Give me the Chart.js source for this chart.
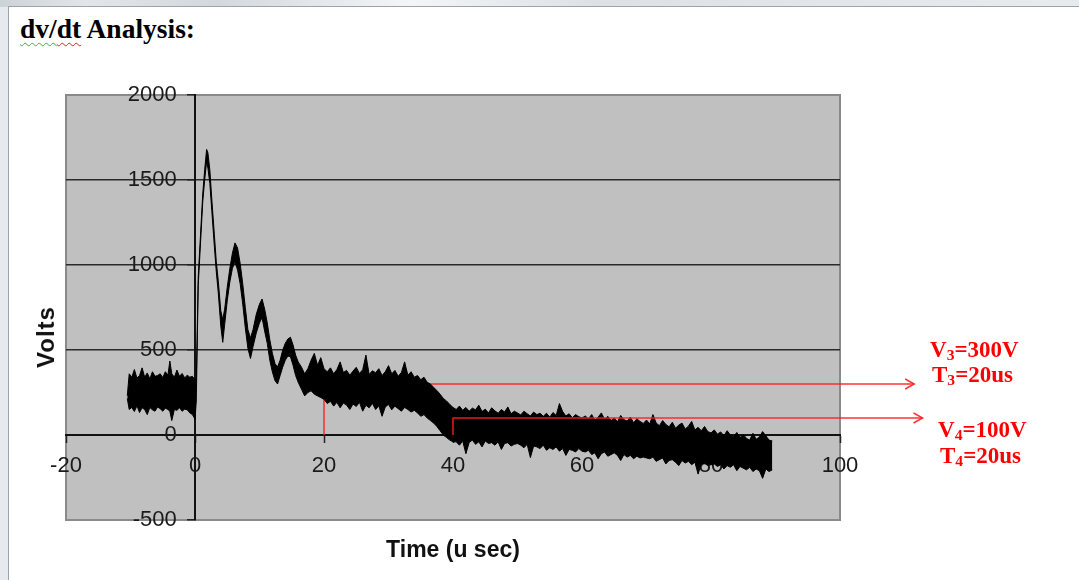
<!DOCTYPE html>
<html>
<head>
<meta charset="utf-8">
<script src="https://cdn.jsdelivr.net/npm/chart.js@4.4.0/dist/chart.umd.min.js"></script>
<style>
  html, body { margin: 0; padding: 0; width: 1079px; height: 580px; overflow: hidden; background: #e6e9ed; }
  .topband { position: absolute; left: 0; top: 0; width: 1079px; height: 7px;
    background: linear-gradient(90deg, #cdd2d8 0%, #e2e6ea 8%, #d3d8de 20%, #f3f5f7 38%, #dde1e6 55%, #e8ebee 100%); }
  .slide { position: absolute; left: 8px; top: 6px; width: 1080px; height: 580px; background: #fff;
    border-left: 1px solid #9ea3a8; border-top: 1px solid #9ea3a8; }
  canvas { position: absolute; left: 0; top: 0; }
  .title { position: absolute; left: 20px; top: 15px; font: bold 27.5px/27px 'Liberation Serif', 'Times New Roman', serif; color: #000; }
  .sq { text-decoration: underline wavy; text-decoration-thickness: 1px; text-underline-offset: 4px; }
  .green { text-decoration-color: #3cb043; }
  .red { text-decoration-color: #e02020; }
  .ylabel { position: absolute; left: 46px; top: 337px; transform: translate(-50%, -50%) rotate(-90deg);
    font: bold 24px/24px 'Liberation Sans', Arial, sans-serif; letter-spacing: 1px; color: #111; white-space: nowrap; }
  .xlabel { position: absolute; left: 453px; top: 538px; transform: translateX(-50%);
    font: bold 23px/23px 'Liberation Sans', Arial, sans-serif; color: #111; white-space: nowrap; }
  .note { position: absolute; font: bold 23px/23px 'Liberation Serif', 'Times New Roman', serif; color: #f00; white-space: nowrap; }
  .note sub { font-size: 0.68em; line-height: 0; vertical-align: -0.22em; }
</style>
</head>
<body>
<div class="topband"></div>
<div class="slide"></div>
<div class="title"><span class="sq green">dv/</span><span class="sq red">dt</span> Analysis:</div>
<canvas id="wave" width="1079" height="580"></canvas>
<div class="ylabel">Volts</div>
<div class="xlabel">Time (u sec)</div>
<div class="note" style="left:930px; top:338px;">V<sub>3</sub>=300V</div>
<div class="note" style="left:932px; top:363px;">T<sub>3</sub>=20us</div>
<div class="note" style="left:938px; top:418px;">V<sub>4</sub>=100V</div>
<div class="note" style="left:940px; top:444px;">T<sub>4</sub>=20us</div>
<script>
// time axis (u sec) and the trace envelope (upper / lower edge of the noisy band)
const timeUs = [
  -10.5, -10.2, -9.8, -9.4, -9, -8.6, -8.2, -7.8, -7.4, -7, -6.6, -6.2, -5.8, -5.4, -5, -4.6, -4.2, -3.9, -3.6, -3.2, -2.8, -2.4, -2, -1.6, -1.2, -0.8, -0.4, -0.1,
  0, 0.2, 0.5, 0.8, 1.2, 1.5, 1.8, 2.0, 2.3, 2.6, 3.0, 3.3, 3.6, 4.0, 4.3, 4.6, 5.0, 5.4, 5.8, 6.2, 6.6, 7.0, 7.4, 7.8, 8.2, 8.6, 9.0, 9.5, 10.0, 10.4, 10.8, 11.2, 11.6, 12.0, 12.4, 12.8, 13.2, 13.6, 14.0, 14.4, 14.8, 15.2, 15.6, 16.0, 16.5, 17.0, 17.5, 18.0, 18.5, 19.0, 19.5,
  20, 20.5, 21, 21.5, 22, 22.5, 23, 23.5, 24, 24.5, 25, 25.5, 26, 26.5, 27, 27.5, 28, 28.5, 29, 29.5, 30, 30.5, 31, 31.5, 32, 32.5, 33, 33.5, 34,
  34.5, 35, 35.5, 36, 36.5, 37, 37.5, 38, 38.5, 39, 39.5, 40,
  40.5, 41, 41.5, 42, 42.5, 43, 43.5, 44, 44.5, 45, 45.5, 46, 46.5, 47, 47.5, 48, 48.5, 49, 49.5, 50,
  50.5, 51, 51.5, 52, 52.5, 53, 53.5, 54, 54.5, 55, 55.5, 56, 56.5, 57, 57.5, 58, 58.5, 59, 59.5, 60,
  60.5, 61, 61.5, 62, 62.5, 63, 63.5, 64, 64.5, 65, 65.5, 66, 66.5, 67, 67.5, 68, 68.5, 69, 69.5, 70,
  70.5, 71, 71.5, 72, 72.5, 73, 73.5, 74, 74.5, 75, 75.5, 76, 76.5, 77, 77.5, 78, 78.5, 79, 79.5, 80,
  80.5, 81, 81.5, 82, 82.5, 83, 83.5, 84, 84.5, 85, 85.5, 86, 86.5, 87, 87.5, 88, 88.5, 89, 89.5
];
const upperV = [
  230, 360, 340, 385, 335, 350, 395, 340, 365, 330, 372, 345, 350, 360, 338, 372, 352, 435, 360, 340, 382, 345, 362, 336, 352, 340, 345, 330,
  330, 320, 930, 1140, 1420, 1560, 1680, 1660, 1560, 1390, 1180, 1020, 910, 730, 680, 740, 870, 980, 1070, 1130, 1100, 1010, 890, 750, 620, 570, 620, 710, 770, 800, 740, 660, 560, 480, 420, 400, 440, 500, 540, 565, 575, 530, 470, 430, 400, 360, 390, 440, 480, 410, 455,
  390, 372, 395, 360, 385, 430, 368, 380, 352, 376, 398, 362, 384, 470, 356, 378, 366, 390, 350, 372, 408, 360, 380, 345, 368, 430, 352, 372, 340,
  350, 325, 340, 310, 300, 280, 262, 240, 215, 200, 180, 162,
  150, 170, 145, 162, 140, 158, 148, 175, 138, 152, 130, 160, 142, 128, 150, 135, 165, 125, 140, 130,
  118, 140, 125, 112, 135, 120, 128, 110, 128, 105, 132, 115, 185, 138, 112, 125, 102, 120, 108, 100,
  112, 95, 120, 88, 105, 130, 92, 110, 85, 100, 78, 115, 90, 82, 105, 72, 95, 80, 68, 88,
  65, 120, 70, 55, 85, 62, 48, 75, 40, 58, 70, 35, 52, 80, 30, 45, 25, 50, 20, 12,
  30, 5, 18, -5, 25, 0, -10, 15, -15, 5, -20, -30, 10, -25, -12, 20, -5, -30, -35
];
const lowerV = [
  215, 150, 162, 138, 172, 132, 160, 150, 120, 162, 148, 140, 165, 155, 140, 158, 150, 140, 85, 150, 145, 160, 140, 152, 148, 130, 120, 100,
  90, 200, 880, 1090, 1370, 1500, 1610, 1570, 1480, 1320, 1110, 960, 840, 640, 545, 650, 790, 900, 980, 1020, 970, 890, 770, 630, 510, 450, 520, 600, 660, 690, 610, 540, 440, 370, 320, 300, 350, 400, 440, 465, 460, 410, 350, 310, 270, 230, 250, 260, 240, 230, 220,
  210, 185, 198, 170, 192, 160, 188, 176, 150, 182, 168, 192, 140, 175, 160, 186, 150, 172, 110, 165, 180, 148, 170, 155, 140, 162, 150, 135, 145,
  130, 110, 120, 100, 85, 70, 50, 25, 0, -15, -30, -40,
  -40, -60, -35, -110, -45, -30, -55, -40, -70, -35, -50, -45, -60, -40, -85, -50, -45, -65, -55, -50,
  -60, -75, -55, -133, -65, -70, -80, -60, -90, -75, -85, -70, -95, -80, -120, -85, -90, -100, -80, -95,
  -100, -90, -115, -105, -140, -110, -100, -125, -115, -105, -120, -150, -115, -130, -120, -140, -125, -135, -130, -135,
  -140, -130, -155, -145, -135, -170, -150, -145, -160, -180, -150, -165, -155, -175, -160, -230, -170, -165, -180, -175,
  -170, -185, -175, -200, -180, -190, -175, -210, -185, -195, -205, -190, -215, -200, -210, -255, -200, -215, -205
];

const xTicks = [-20, 0, 20, 40, 60, 80, 100];
const yTicks = [-500, 0, 500, 1000, 1500, 2000];

// red markers: start time, level, and where the arrow ends (past the plot, in u sec)
const markTimes = [20, 40];
const markVolts = [300, 100];
const arrowTimes = [111.5, 112.8];

const upperPts = timeUs.map((t, i) => ({ x: t, y: upperV[i] }));
const lowerPts = timeUs.map((t, i) => ({ x: t, y: lowerV[i] }));
const markerPts = markTimes.map((t, i) => [
  { x: t, y: 0 }, { x: t, y: markVolts[i] }, { x: arrowTimes[i], y: markVolts[i] }
]);

const RED = 'rgba(255, 30, 30, 0.9)';

const plotBg = {
  id: 'plotBg',
  beforeDraw(chart) {
    const { ctx, chartArea: a } = chart;
    ctx.save();
    ctx.fillStyle = '#c0c0c0';
    ctx.fillRect(a.left, a.top, a.right - a.left, a.bottom - a.top);
    ctx.strokeStyle = '#8a8a8a';
    ctx.lineWidth = 2;
    ctx.strokeRect(a.left, a.top, a.right - a.left, a.bottom - a.top);
    ctx.restore();
  }
};

const arrowHeads = {
  id: 'arrowHeads',
  afterDatasetsDraw(chart) {
    const { ctx, scales: { x, y } } = chart;
    ctx.save();
    ctx.strokeStyle = RED;
    ctx.lineWidth = 1.5;
    arrowTimes.forEach((t, i) => {
      const px = x.getPixelForValue(t);
      const py = y.getPixelForValue(markVolts[i]);
      ctx.beginPath();
      ctx.moveTo(px - 9, py - 5);
      ctx.lineTo(px, py);
      ctx.lineTo(px - 9, py + 5);
      ctx.stroke();
    });
    ctx.restore();
  }
};

const tickFont = { family: "'Liberation Sans', Arial, sans-serif", size: 22 };

new Chart(document.getElementById('wave').getContext('2d'), {
  type: 'line',
  data: {
    datasets: [
      { label: 'upper', data: upperPts, borderColor: '#000', backgroundColor: '#000', borderWidth: 1, pointRadius: 0, tension: 0, fill: '+1', order: 1 },
      { label: 'lower', data: lowerPts, borderColor: '#000', borderWidth: 1, pointRadius: 0, tension: 0, fill: false, order: 1 },
      { label: 'V3', data: markerPts[0], borderColor: RED, borderWidth: 1.5, pointRadius: 0, tension: 0, fill: false, clip: false, order: 2 },
      { label: 'V4', data: markerPts[1], borderColor: RED, borderWidth: 1.5, pointRadius: 0, tension: 0, fill: false, clip: false, order: 0 }
    ]
  },
  options: {
    responsive: false,
    animation: false,
    devicePixelRatio: 1,
    layout: { padding: { left: 66, right: 239, top: 95, bottom: 60 } },
    plugins: { legend: { display: false }, tooltip: { enabled: false } },
    scales: {
      x: {
        type: 'linear',
        min: -20,
        max: 100,
        position: { y: 0 },
        afterBuildTicks: s => { s.ticks = xTicks.map(v => ({ value: v })); },
        ticks: { font: tickFont, color: '#1a1a1a', padding: 11, maxRotation: 0 },
        grid: { drawOnChartArea: false, drawTicks: true, tickLength: 7, tickColor: '#222', tickWidth: 1.5 },
        border: { display: true, color: '#111', width: 2 }
      },
      y: {
        type: 'linear',
        min: -500,
        max: 2000,
        position: { x: 0 },
        afterBuildTicks: s => { s.ticks = yTicks.map(v => ({ value: v })); },
        // labels sit right-aligned on the axis line, so pad them off it
        ticks: { font: tickFont, color: '#1a1a1a', callback: v => String(v) + '\u00a0\u00a0\u00a0' },
        grid: {
          color: c => (c.tick && (c.tick.value === 2000 || c.tick.value === -500)) ? 'rgba(0,0,0,0)' : '#2a2a2a',
          lineWidth: 1.5,
          tickLength: 7,
          tickColor: '#222',
          tickWidth: 1.5
        },
        border: { display: true, color: '#111', width: 2 }
      }
    }
  },
  plugins: [plotBg, arrowHeads]
});
</script>
</body>
</html>
